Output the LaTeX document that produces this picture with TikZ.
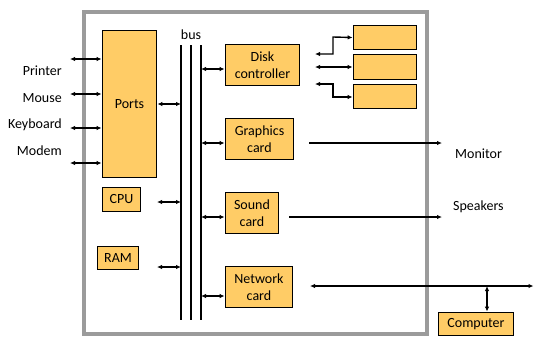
\documentclass[tikz,border=0pt]{standalone}
\usepackage{fontspec}
\setmainfont{Carlito}
\usetikzlibrary{arrows.meta}
\definecolor{boxfill}{RGB}{255,204,102}
\definecolor{frame}{RGB}{155,155,155}
\begin{document}
\begin{tikzpicture}[x=1pt,y=-1pt,
  font=\fontsize{14}{17.5}\selectfont,
  blk/.style={draw=black, line width=1.8pt, fill=boxfill, inner sep=0pt, align=center},
  conn/.style={line width=1.4pt, draw=black},
  dbl/.style={conn, {Latex[length=5pt,width=4.5pt]}-{Latex[length=5pt,width=4.5pt]}},
  one/.style={conn, -{Latex[length=5pt,width=4.5pt]}},
  busline/.style={line width=2pt, draw=black},
  lbl/.style={inner sep=0pt}]
\useasboundingbox (0,0) rectangle (534,346);
% outer frame
\draw[frame, line width=3.2pt] (84,12) rectangle (427,334);
% boxes
\node[blk, minimum width=54pt, minimum height=147pt] (Ports) at (129.5,104) {Ports};
\node[blk, minimum width=74pt, minimum height=41pt] (Disk) at (262.5,65) {Disk\\controller};
\node[blk, minimum width=68pt, minimum height=41pt] (Graphics) at (259.5,139) {Graphics\\card};
\node[blk, minimum width=53pt, minimum height=41pt] (Sound) at (252,213) {Sound\\card};
\node[blk, minimum width=67pt, minimum height=41pt] (Network) at (259,287) {Network\\card};
\node[blk, minimum width=38pt, minimum height=24pt] (CPU) at (121.5,199.5) {CPU};
\node[blk, minimum width=41pt, minimum height=23pt] (RAM) at (118,258) {RAM};
\node[blk, minimum width=75pt, minimum height=23pt] (Computer) at (476,324) {Computer};
\node[blk, minimum width=63pt, minimum height=24pt] (D1) at (385,37.5) {};
\node[blk, minimum width=63pt, minimum height=25pt] (D2) at (385,67) {};
\node[blk, minimum width=63pt, minimum height=24pt] (D3) at (385,96.5) {};
% bus
\node[lbl] (buslbl) at (191,35) {bus};
\coordinate (bLt) at (181,45); \coordinate (bLb) at (181,320);
\coordinate (bMt) at (191,45); \coordinate (bMb) at (191,320);
\coordinate (bRt) at (201,45); \coordinate (bRb) at (201,320);
\draw[busline] (bLt) -- (bLb);
\draw[busline] (bMt) -- (bMb);
\draw[busline] (bRt) -- (bRb);
% left labels
\node[lbl, anchor=base east] (Printer) at (62,75) {Printer};
\node[lbl, anchor=base east] (Mouse) at (62,102) {Mouse};
\node[lbl, anchor=base east] (Keyboard) at (62,128) {Keyboard};
\node[lbl, anchor=base east] (Modem) at (62,155) {Modem};
\coordinate (pA) at (70,59);
\coordinate (pB) at (70,94);
\coordinate (pC) at (70,128);
\coordinate (pD) at (70,163);
\draw[dbl] (pA) -- (pA -| Ports.west);
\draw[dbl] (pB) -- (pB -| Ports.west);
\draw[dbl] (pC) -- (pC -| Ports.west);
\draw[dbl] (pD) -- (pD -| Ports.west);
% left side of bus
\draw[dbl] (Ports.east) -- (Ports.east -| bLt);
\coordinate (cpuA) at (157,202);
\draw[dbl] (cpuA) -- (cpuA -| bLt);
\coordinate (ramA) at (157,267);
\draw[dbl] (ramA) -- (ramA -| bLt);
% right side of bus
\coordinate (dkA) at (201,69);
\draw[dbl] (dkA) -- (dkA -| Disk.west);
\coordinate (grA) at (201,143);
\draw[dbl] (grA) -- (grA -| Graphics.west);
\coordinate (soA) at (201,217);
\draw[dbl] (soA) -- (soA -| Sound.west);
\coordinate (neA) at (201,296);
\draw[dbl] (neA) -- (neA -| Network.west);
% disk drives
\coordinate (d1s) at (315,54);
\coordinate (d2s) at (315,67);
\coordinate (d3s) at (315,84);
\draw[dbl] (d1s) -- (333,54) -- (333,37) -- (D1.west);
\draw[dbl] (d2s) -- (D2.west);
\draw[dbl] (d3s) -- (333,84) -- (333,97) -- (333,97 -| D3.west);
% outputs
\node[lbl, anchor=base west] (Monitor) at (455,158) {Monitor};
\node[lbl, anchor=base west] (Speakers) at (453,210) {Speakers};
\coordinate (moA) at (309,143); \coordinate (moB) at (442,143);
\draw[one] (moA) -- (moB);
\coordinate (spA) at (289,217); \coordinate (spB) at (442,217);
\draw[one] (spA) -- (spB);
\coordinate (nwA) at (310,286); \coordinate (nwB) at (533.5,286);
\draw[dbl] (nwA) -- (nwB);
\coordinate (nwC) at (487,286);
\draw[dbl] (nwC) -- (nwC |- Computer.north);
\end{tikzpicture}
\end{document}
